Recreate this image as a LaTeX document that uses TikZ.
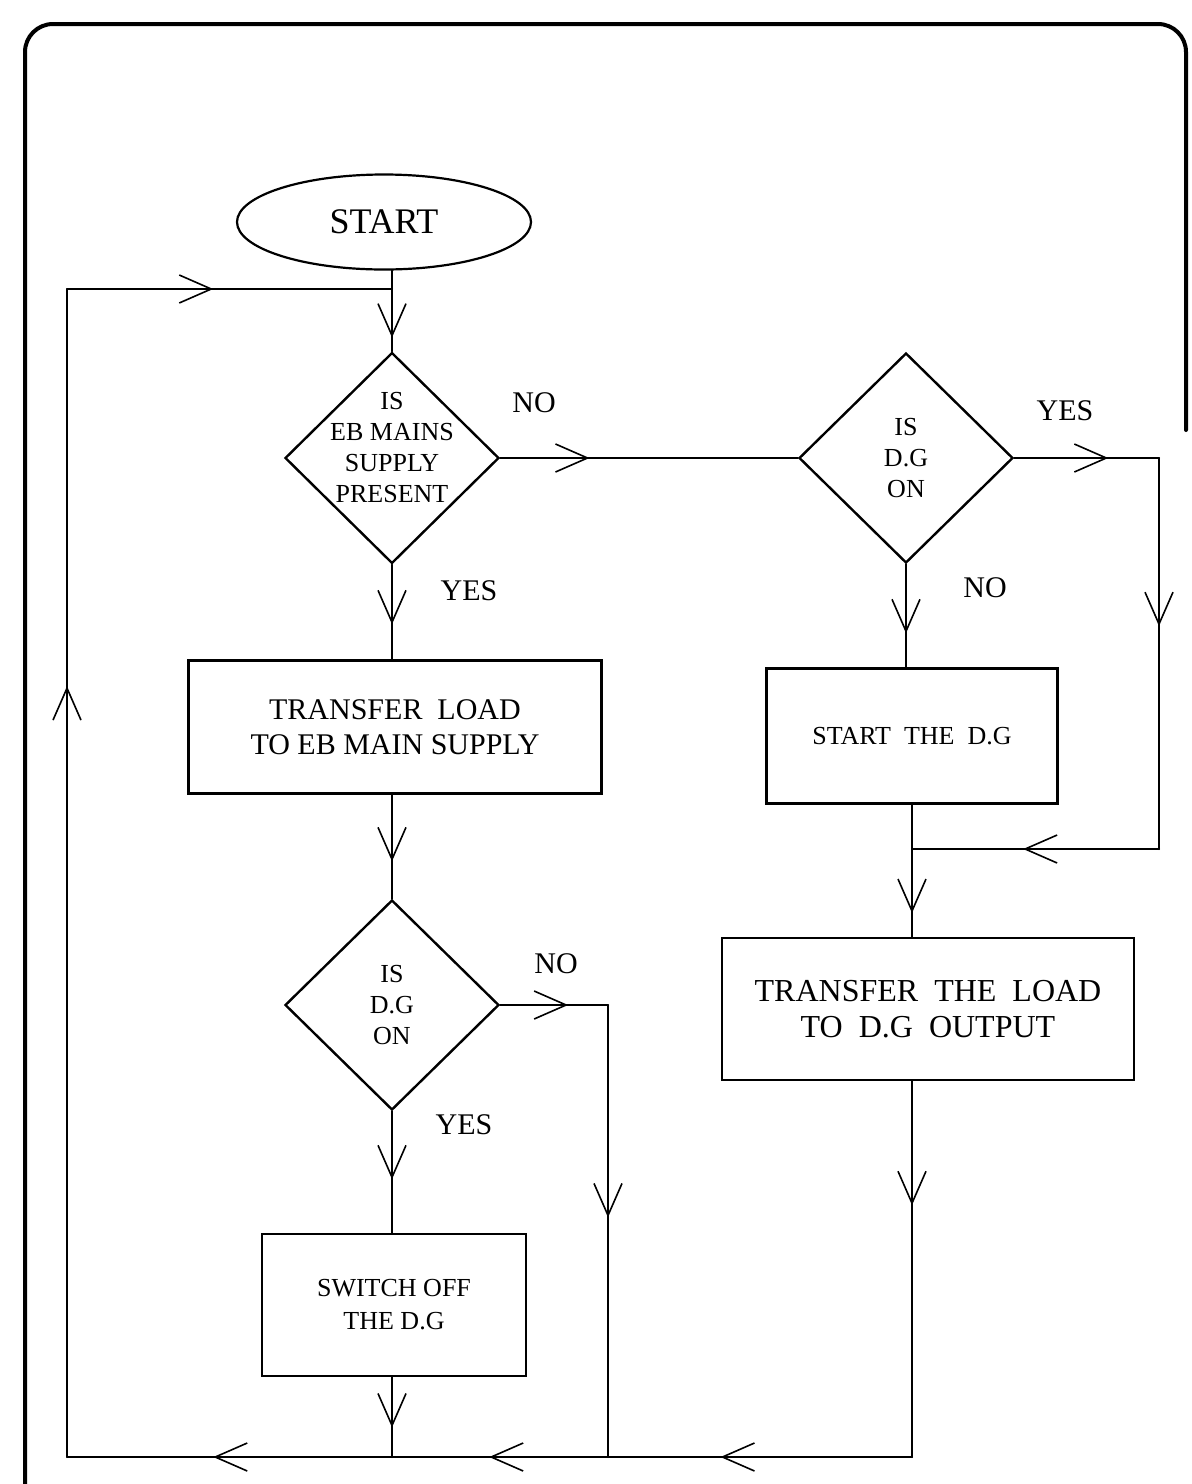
\documentclass[tikz,border=0pt]{standalone}
\usepackage{fontspec}
\setmainfont{Liberation Serif}
\usetikzlibrary{arrows.meta,shapes.geometric,decorations.markings}

\begin{document}
\begin{tikzpicture}[x=0.5pt,y=-0.5pt,line width=1pt,line cap=round,
    term/.style={draw, ellipse, line width=1.1pt, minimum width=147pt, minimum height=47.5pt, font=\fontsize{18}{20}\selectfont},
    decision/.style={draw, diamond, line width=1.2pt, minimum width=107pt, minimum height=105pt, inner sep=0pt, align=center, font=\fontsize{13}{15.5}\selectfont},
    process/.style={draw, rectangle, line width=1.2pt, align=center},
    lbl/.style={font=\fontsize{15}{17}\selectfont},
    arr/.style={postaction={decorate}, decoration={markings, mark=at position #1 with {\arrow{Straight Barb[length=16pt,width=14pt,line width=0.8pt]}}}}]
            \useasboundingbox (0,0) rectangle (1192,1484);
            \draw[line width=2pt, rounded corners=14pt] (25,1490) -- (25,24) -- (1186,24) -- (1186,430);

            \draw (384,222) node[term]                      (start) {START};
            \draw (392,458) node[decision, inner sep=-5.6pt, text depth=11pt]  (d1) {IS\\EB MAINS\\SUPPLY\\PRESENT};
            \draw (906,458) node[decision]                  (d2) {IS\\D.G\\ON};
            \draw (395,727) node[process, minimum width=206.5pt, minimum height=66.5pt, font=\fontsize{15}{17.5}\selectfont] (load) {TRANSFER\ \ LOAD\\TO\ EB\ MAIN\ SUPPLY};
            \draw (912,736) node[process, minimum width=145.5pt, minimum height=67.5pt, font=\fontsize{13}{15}\selectfont] (startdg) {START\ \ THE\ \ D.G};
            \draw (392,1005) node[decision]                 (d3) {IS\\D.G\\ON};
            \draw (928,1009) node[process, minimum width=206pt, minimum height=71pt, font=\fontsize{16}{18}\selectfont] (loaddg) {TRANSFER\ \ THE\ \ LOAD\\TO\ \ D.G\ \ OUTPUT};
            \draw (394,1305) node[process, minimum width=132pt, minimum height=71pt, font=\fontsize{13}{16.5}\selectfont] (off) {SWITCH OFF\\THE D.G};

            \draw (534,403) node[lbl]   (no1) {NO};
            \draw (469,591) node[lbl]   (yes1) {YES};
            \draw (1065,411) node[lbl]  (yes2) {YES};
            \draw (985,588) node[lbl]   (no2) {NO};
            \draw (556,964) node[lbl]   (no3) {NO};
            \draw (464,1125) node[lbl]  (yes3) {YES};

            \coordinate (jtop) at (392,289);
            \coordinate (tl) at (67,289);
            \coordinate (bl) at (67,1457);
            \coordinate (bsw) at (392,1457);
            \coordinate (bno) at (608,1457);
            \coordinate (bdg) at (912,1457);
            \coordinate (cno) at (608,1005);
            \coordinate (cyes) at (1159,458);
            \coordinate (cyesb) at (1159,849);
            \coordinate (jdg) at (912,849);

            \draw[arr=0.83] (d1.north |- start.south) -- (d1.north);
            \draw[arr=0.66] (bl) -- (tl);
            \draw[arr=0.45] (tl) -- (jtop);
            \draw[arr=0.30] (d1.east) -- (d2.west);
            \draw[arr=0.63] (d1.south) -- (d1.south |- load.north);
            \draw[arr=0.64] (d1.south |- load.south) -- (d3.north);
            \draw[arr=0.63] (d3.east) -- (cno);
            \draw[arr=0.47] (cno) -- (bno);
            \draw[arr=0.56] (d3.south) -- (d3.south |- off.north);
            \draw[arr=0.63] (d3.south |- off.south) -- (bsw);
            \draw[arr=0.65] (d2.east) -- (cyes);
            \draw[arr=0.43] (cyes) -- (cyesb);
            \draw[arr=0.55] (cyesb) -- (jdg);
            \draw[arr=0.67] (d2.south) -- (d2.south |- startdg.north);
            \draw[arr=0.82] (startdg.south) -- (startdg.south |- loaddg.north);
            \draw[arr=0.33] (startdg.south |- loaddg.south) -- (bdg);
            \draw[arr=0.63] (bdg) -- (bno);
            \draw[arr=0.55] (bno) -- (bsw);
            \draw[arr=0.55] (bsw) -- (bl);

            \end{tikzpicture}
\end{document}
